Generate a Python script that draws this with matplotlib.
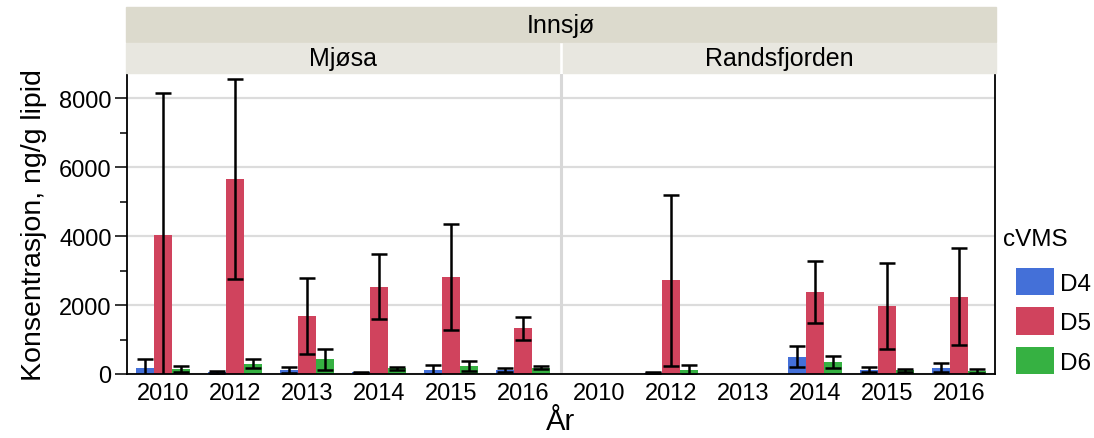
import numpy as np
import matplotlib
matplotlib.use("Agg")
import matplotlib.pyplot as plt
from matplotlib.patches import Rectangle, Patch

plt.rcParams['font.family'] = ['Liberation Sans', 'DejaVu Sans']

# ---- data ----
years = ['2010', '2012', '2013', '2014', '2015', '2016']
lakes = ['Mjøsa', 'Randsfjorden']
compounds = ['D4', 'D5', 'D6']
colors = ['#4470D8', '#D0435D', '#36B142']

d4_mjosa = [185, 58, 116, 50, 126, 126]
d4_mjosa_err = [250, 15, 85, 10, 135, 60]
d5_mjosa = [4030, 5660, 1680, 2525, 2810, 1325]
d5_mjosa_err = [4105, 2900, 1090, 945, 1545, 330]
d6_mjosa = [145, 300, 425, 165, 232, 185]
d6_mjosa_err = [77, 140, 310, 35, 135, 50]

d4_rands = [np.nan, 40, np.nan, 502, 126, 184]
d4_rands_err = [np.nan, 10, np.nan, 300, 70, 140]
d5_rands = [np.nan, 2715, np.nan, 2385, 1960, 2245]
d5_rands_err = [np.nan, 2485, np.nan, 900, 1245, 1400]
d6_rands = [np.nan, 106, np.nan, 357, 106, 87]
d6_rands_err = [np.nan, 145, np.nan, 172, 45, 45]

series = {
    'Mjøsa': [(d4_mjosa, d4_mjosa_err), (d5_mjosa, d5_mjosa_err), (d6_mjosa, d6_mjosa_err)],
    'Randsfjorden': [(d4_rands, d4_rands_err), (d5_rands, d5_rands_err), (d6_rands, d6_rands_err)],
}

W, H = 1094, 439
fig = plt.figure(figsize=(W / 100, H / 100), dpi=100)

def fx(px):
    return px / W

def fy(py):
    return 1 - py / H

ax_l, ax_r, ax_t, ax_b = 127, 995, 75, 375
ax = fig.add_axes([fx(ax_l), fy(ax_b), fx(ax_r - ax_l), fy(ax_t) - fy(ax_b)])

n = len(years)
gap = 4 / 72.0
bw = 0.254
offsets = [-bw, 0, bw]
tick_pos = []
tick_lab = []
for li, lake in enumerate(lakes):
    base = np.arange(n) + li * (n + gap)
    tick_pos.extend(base)
    tick_lab.extend(years)
    for ci, (vals, errs) in enumerate(series[lake]):
        v = np.array(vals, dtype=float)
        e = np.array(errs, dtype=float)
        x = base + offsets[ci]
        ok = ~np.isnan(v)
        ax.bar(x[ok], v[ok], width=bw, color=colors[ci], zorder=2, linewidth=0)
        ax.errorbar(x[ok], v[ok], yerr=e[ok], fmt='none', ecolor='black',
                    elinewidth=1.8, capsize=5.5, capthick=1.8, zorder=3)

divider = n - 0.5 + gap / 2
ax.axvline(divider, color='#d8d8d8', lw=2.2, zorder=1)

ax.set_xlim(-0.5, 2 * n - 0.5 + gap)
ax.set_ylim(0, 8696)
ax.set_yticks([0, 2000, 4000, 6000, 8000])
ax.set_yticks(np.arange(1000, 8001, 2000), minor=True)
ax.set_xticks(tick_pos)
ax.set_xticklabels(tick_lab)
ax.tick_params(axis='x', length=0, labelsize=17, pad=6)
ax.tick_params(axis='y', which='major', length=9, width=1.1, labelsize=17, pad=2)
ax.tick_params(axis='y', which='minor', length=5, width=1.1)
ax.grid(axis='y', which='major', color='#dcdcdc', lw=1.6, zorder=0)
ax.set_axisbelow(True)
for s in ['left', 'bottom', 'right']:
    ax.spines[s].set_linewidth(1.3)
    ax.spines[s].set_color('black')
ax.spines['top'].set_visible(False)

ax.set_ylabel('Konsentrasjon, ng/g lipid', fontsize=20.5, labelpad=9)
ax.set_xlabel('År', fontsize=21, labelpad=2)

# ---- facet strips ----
top_col = '#dcdacd'
sub_col = '#e8e7e0'
fig.patches.append(Rectangle((fx(126), fy(43)), fx(996 - 126), fy(8) - fy(43),
                             transform=fig.transFigure, color=top_col, zorder=0))
fig.text(fx(561), fy(25.5), 'Innsjø', ha='center', va='center', fontsize=18)
strips = [(126, 559), (563, 996)]
for (x0, x1), lake in zip(strips, lakes):
    fig.patches.append(Rectangle((fx(x0), fy(74)), fx(x1 - x0), fy(44) - fy(74),
                                 transform=fig.transFigure, color=sub_col, zorder=0))
    fig.text(fx((x0 + x1) / 2), fy(59), lake, ha='center', va='center', fontsize=18)

# ---- legend ----
fig.text(fx(1003), fy(240), 'cVMS', ha='left', va='center', fontsize=17.5)
handles = [Patch(facecolor=c, edgecolor='none') for c in colors]
leg = fig.legend(handles, compounds, loc='upper left',
                 bbox_to_anchor=(fx(1016), fy(269)), frameon=False, fontsize=17.5,
                 handlelength=1.56, handleheight=1.35,
                 labelspacing=0.5, handletextpad=0.25, borderaxespad=0, borderpad=0)

fig.savefig('out.png', dpi=100)
